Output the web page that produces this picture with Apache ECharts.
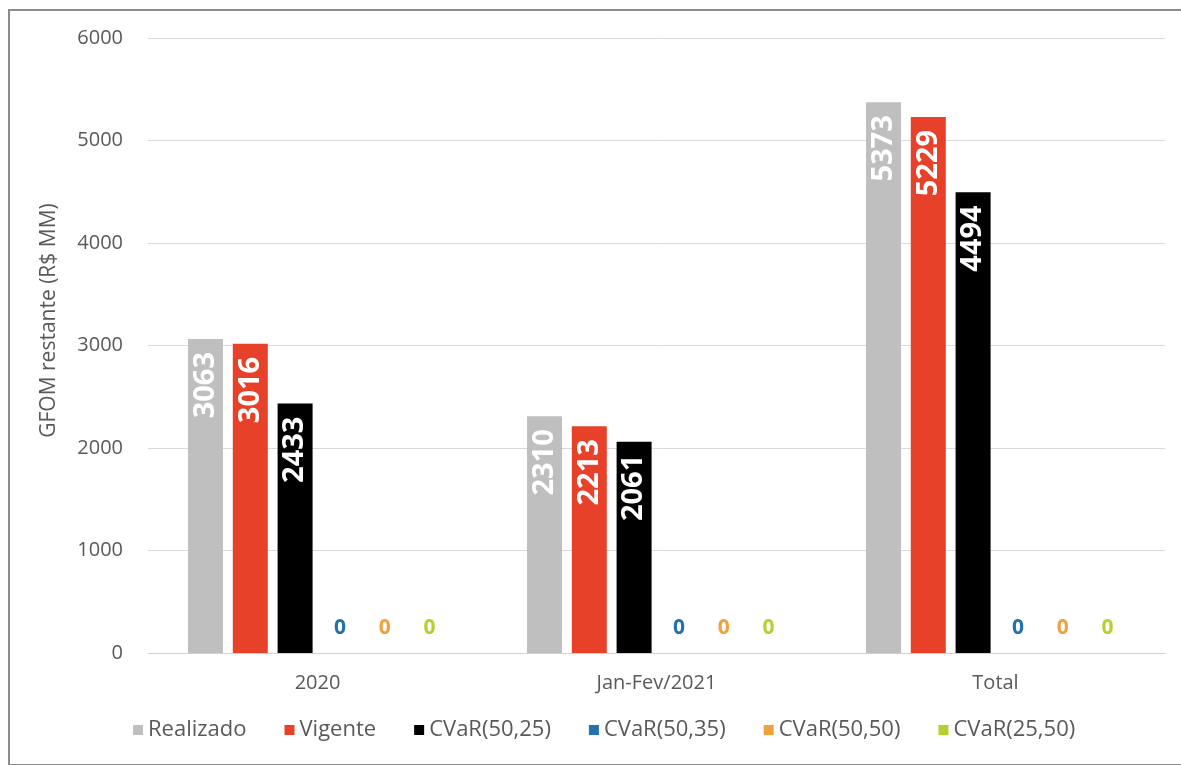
<!DOCTYPE html>
<html lang="pt">
<head>
<meta charset="UTF-8">
<title>GFOM restante</title>
<style>
  html, body { margin: 0; padding: 0; background: #fff; }
  #frame { position: absolute; left: 8px; top: 9px; width: 1180px; height: 753px;
           border-left: 2px solid #8c8c8c; border-top: 2px solid #8c8c8c; border-bottom: 2px solid #8c8c8c; }
  #main { position: absolute; left: 0; top: 0; width: 1181px; height: 765px; }
</style>
</head>
<body>
<div id="frame"></div>
<div id="main"></div>
<script src="https://cdn.jsdelivr.net/npm/echarts@6/dist/echarts.min.js"></script>
<script>
// categorias e valores
var categorias = ['2020', 'Jan-Fev/2021', 'Total'];
var realizado = [3063, 2310, 5373];
var vigente = [3016, 2213, 5229];
var cvar5025 = [2433, 2061, 4494];
var cvar5035 = [0, 0, 0];
var cvar5050 = [0, 0, 0];
var cvar2550 = [0, 0, 0];
var yTicks = [0, 1000, 2000, 3000, 4000, 5000, 6000];

var fonte = '"Open Sans", "Noto Sans", sans-serif';

// rótulo vertical dentro da barra
function rotuloBarra() {
  return {
    show: true,
    position: 'insideTop',
    rotate: 90,
    align: 'right',
    verticalAlign: 'middle',
    distance: 13,
    color: '#fff',
    fontSize: 29,
    fontWeight: 'bold',
    fontFamily: fonte
  };
}
// rótulo "0" com a cor da série
function rotuloZero(cor) {
  return {
    show: true,
    position: 'top',
    distance: 14,
    color: cor,
    fontSize: 21,
    fontWeight: 'bold',
    fontFamily: fonte
  };
}

var myChart = echarts.init(document.getElementById('main'));

var option = {
  animation: false,
  grid: { left: 148, right: 16, top: 38, bottom: 112 },
  legend: {
    bottom: 19,
    left: 128,
    itemWidth: 10,
    itemHeight: 10,
    itemGap: 38,
    icon: 'rect',
    textStyle: { color: '#595959', fontSize: 22, fontFamily: fonte }
  },
  xAxis: {
    type: 'category',
    data: categorias,
    axisLine: { lineStyle: { color: '#d0d0d0', width: 1 } },
    axisTick: { show: false },
    axisLabel: { color: '#595959', fontSize: 20, fontFamily: fonte, margin: 20 }
  },
  yAxis: {
    type: 'value',
    min: yTicks[0],
    max: yTicks[yTicks.length - 1],
    interval: 1000,
    name: 'GFOM restante (R$ MM)',
    nameLocation: 'middle',
    nameRotate: 90,
    nameGap: 88,
    nameTextStyle: { color: '#595959', fontSize: 21, fontFamily: fonte, padding: [0, 0, 0, 50] },
    axisLine: { show: false },
    axisTick: { show: false },
    axisLabel: {
      color: '#595959', fontSize: 20, fontFamily: fonte, margin: 25,
      formatter: function (v) { return String(v); }
    },
    splitLine: { lineStyle: { color: '#d9d9d9', width: 1 } }
  },
  series: [
    { name: 'Realizado', type: 'bar', data: realizado, barWidth: 35, barGap: '28%',
      itemStyle: { color: '#bfbfbf' }, label: rotuloBarra() },
    { name: 'Vigente', type: 'bar', data: vigente, barWidth: 35,
      itemStyle: { color: '#e8412a' }, label: rotuloBarra() },
    { name: 'CVaR(50,25)', type: 'bar', data: cvar5025, barWidth: 35,
      itemStyle: { color: '#000000' }, label: rotuloBarra() },
    { name: 'CVaR(50,35)', type: 'bar', data: cvar5035, barWidth: 35,
      itemStyle: { color: '#2272b0' }, label: rotuloZero('#2272b0') },
    { name: 'CVaR(50,50)', type: 'bar', data: cvar5050, barWidth: 35,
      itemStyle: { color: '#f2a03a' }, label: rotuloZero('#f2a03a') },
    { name: 'CVaR(25,50)', type: 'bar', data: cvar2550, barWidth: 35,
      itemStyle: { color: '#b6cf2e' }, label: rotuloZero('#b6cf2e') }
  ]
};

myChart.setOption(option);
</script>
</body>
</html>
